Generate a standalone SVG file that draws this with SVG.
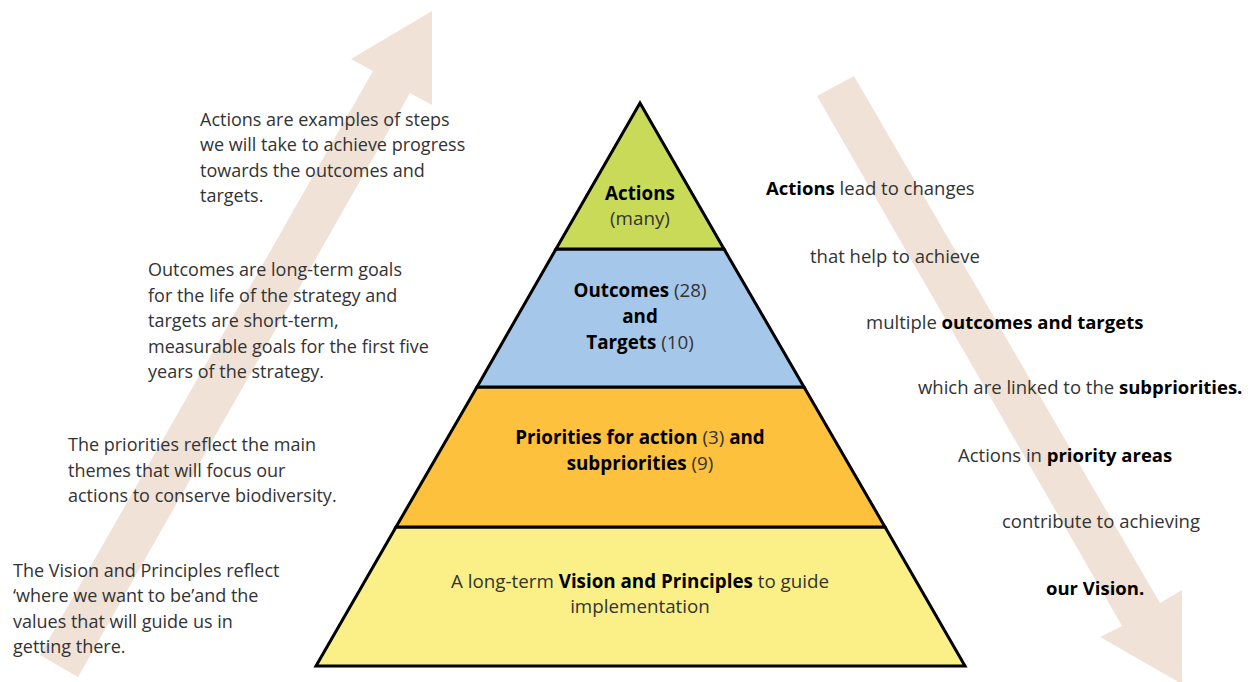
<svg xmlns="http://www.w3.org/2000/svg" width="1260" height="682" viewBox="0 0 1260 682">
<style>
  .t { font-family: "Open Sans", "Liberation Sans", sans-serif; font-size: 18px; fill: #333333; }
  .r { font-size: 18.5px; }
  .b { font-weight: bold; fill: #000000; }
  .pb { font-family: "Open Sans", "Liberation Sans", sans-serif; font-size: 18.8px; }
  .tier { stroke: #000000; stroke-width: 3; stroke-linejoin: miter; }
  .arrow { fill: #f0e2d7; stroke: none; }
</style>
<rect width="1260" height="682" fill="#ffffff"/>
<g id="connectors">
  <polygon class="arrow" points="40,655 373,71 351,59 432,11 432,105 410,93 78,677"/>
  <polygon class="arrow" points="817,96 854,76 1160,603 1182,590 1182,684 1100,637 1122,626"/>
</g>
<g id="tier-vision">
  <polygon class="tier" fill="#faf087" points="396,527 885,527 965,666 316,666"/>
  <text class="pb" text-anchor="middle" x="640" y="588" fill="#333333">A long-term <tspan class="b">Vision and Principles</tspan> to guide</text>
  <text class="pb" text-anchor="middle" x="640" y="613" fill="#333333">implementation</text>
</g>
<g id="tier-priorities">
  <polygon class="tier" fill="#fdc13e" points="477,387 804,387 885,527 396,527"/>
  <text class="pb" text-anchor="middle" x="640" y="444" fill="#333333"><tspan class="b">Priorities for action</tspan> (3) <tspan class="b">and</tspan></text>
  <text class="pb" text-anchor="middle" x="640" y="470" fill="#333333"><tspan class="b">subpriorities</tspan> (9)</text>
</g>
<g id="tier-outcomes">
  <polygon class="tier" fill="#a5c7e9" points="556,249 724,249 804,387 477,387"/>
  <text class="pb" text-anchor="middle" x="640" y="297" fill="#333333"><tspan class="b">Outcomes</tspan> (28)</text>
  <text class="pb b" text-anchor="middle" x="640" y="323">and</text>
  <text class="pb" text-anchor="middle" x="640" y="349" fill="#333333"><tspan class="b">Targets</tspan> (10)</text>
</g>
<g id="tier-actions">
  <polygon class="tier" fill="#c8da58" points="640,103 724,249 556,249"/>
  <text class="pb b" text-anchor="middle" x="640" y="200">Actions</text>
  <text class="pb" text-anchor="middle" x="640" y="225" fill="#333333">(many)</text>
</g>
<g id="left-notes">
  <text class="t" x="200" y="126">Actions are examples of steps</text>
  <text class="t" x="200" y="151">we will take to achieve progress</text>
  <text class="t" x="200" y="177">towards the outcomes and</text>
  <text class="t" x="200" y="202">targets.</text>

  <text class="t" x="148" y="276">Outcomes are long-term goals</text>
  <text class="t" x="148" y="302">for the life of the strategy and</text>
  <text class="t" x="148" y="327">targets are short-term,</text>
  <text class="t" x="148" y="353">measurable goals for the first five</text>
  <text class="t" x="148" y="378">years of the strategy.</text>

  <text class="t" x="68" y="451">The priorities reflect the main</text>
  <text class="t" x="68" y="477">themes that will focus our</text>
  <text class="t" x="68" y="502">actions to conserve biodiversity.</text>

  <text class="t" x="13" y="577">The Vision and Principles reflect</text>
  <text class="t" x="13" y="602">‘where we want to be’and the</text>
  <text class="t" x="13" y="628">values that will guide us in</text>
  <text class="t" x="13" y="653">getting there.</text>
</g>
<g id="right-notes">
  <text class="t r" x="766" y="195"><tspan class="b">Actions</tspan> lead to changes</text>
  <text class="t r" x="810" y="263">that help to achieve</text>
  <text class="t r" x="866" y="329">multiple <tspan class="b">outcomes and targets</tspan></text>
  <text class="t r" x="918" y="394">which are linked to the <tspan class="b">subpriorities.</tspan></text>
  <text class="t r" x="958" y="462">Actions in <tspan class="b">priority areas</tspan></text>
  <text class="t r" x="1002" y="528">contribute to achieving</text>
  <text class="t r b" x="1046" y="595">our Vision.</text>
</g>
</svg>
